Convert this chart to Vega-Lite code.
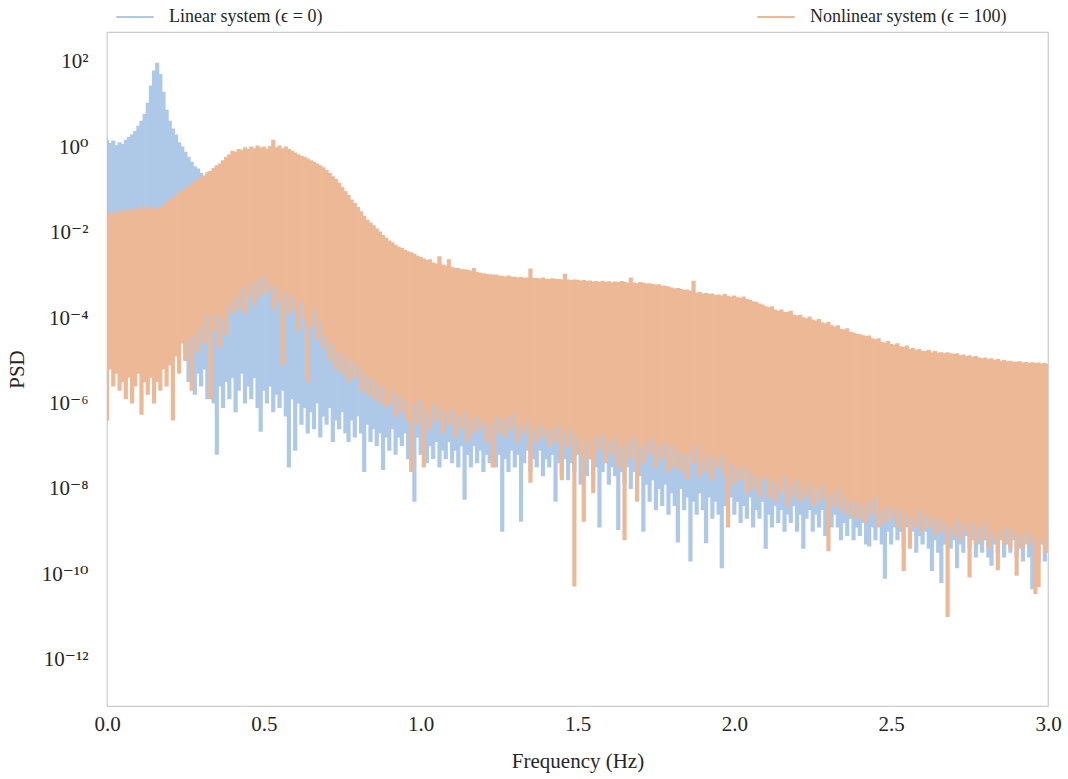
{
"$schema": "https://vega.github.io/schema/vega-lite/v6.json",
"width": 941,
"height": 674,
"autosize": {"type": "none"},
"padding": {"left": 107, "top": 32, "right": 20, "bottom": 73},
"background": "white",
"config": {
  "view": {"stroke": "#cccccc", "strokeWidth": 1.25},
  "font": "Liberation Serif, DejaVu Serif",
  "axis": {"grid": false, "domain": false, "ticks": false, "tickSize": 0, "labelColor": "#262626", "titleColor": "#262626", "labelFontSize": 21, "titleFontSize": 21, "titleFontWeight": "normal", "labelFont": "Liberation Serif, DejaVu Serif", "titleFont": "Liberation Serif, DejaVu Serif", "labelFlush": false, "labelOverlap": false},
  "legend": {"labelFont": "Liberation Serif, DejaVu Serif"}
},
"data": {"values": [
{"s":"L","f":0,"hi":1.5,"lo":1e-4},
{"s":"L","f":0.01,"hi":1.26,"lo":1e-4},
{"s":"L","f":0.02,"hi":1.45,"lo":1e-4},
{"s":"L","f":0.03,"hi":1.12,"lo":1e-4},
{"s":"L","f":0.04,"hi":1.32,"lo":1e-4},
{"s":"L","f":0.05,"hi":1.2,"lo":1e-4},
{"s":"L","f":0.06,"hi":1.5,"lo":1e-4},
{"s":"L","f":0.07,"hi":1.74,"lo":1e-4},
{"s":"L","f":0.08,"hi":2.0,"lo":1e-4},
{"s":"L","f":0.09,"hi":2.4,"lo":1e-4},
{"s":"L","f":0.1,"hi":3.2,"lo":1e-4},
{"s":"L","f":0.11,"hi":4.2,"lo":1e-4},
{"s":"L","f":0.12,"hi":6.0,"lo":1e-4},
{"s":"L","f":0.13,"hi":11,"lo":1e-4},
{"s":"L","f":0.14,"hi":28,"lo":1e-4},
{"s":"L","f":0.15,"hi":63,"lo":1e-4},
{"s":"L","f":0.16,"hi":95,"lo":1e-4},
{"s":"L","f":0.17,"hi":52,"lo":1e-4},
{"s":"L","f":0.18,"hi":20,"lo":1e-4},
{"s":"L","f":0.19,"hi":7.6,"lo":1e-4},
{"s":"L","f":0.2,"hi":4.2,"lo":1e-4},
{"s":"L","f":0.21,"hi":2.75,"lo":1e-4},
{"s":"L","f":0.22,"hi":2.0,"lo":1e-4},
{"s":"L","f":0.23,"hi":1.32,"lo":1e-4},
{"s":"L","f":0.24,"hi":1.05,"lo":1e-4},
{"s":"L","f":0.25,"hi":0.79,"lo":1e-5},
{"s":"L","f":0.26,"hi":0.6,"lo":3.2e-6},
{"s":"L","f":0.27,"hi":0.46,"lo":6.3e-6},
{"s":"L","f":0.28,"hi":0.36,"lo":1.6e-6},
{"s":"L","f":0.29,"hi":0.32,"lo":5e-6},
{"s":"L","f":0.3,"hi":0.25,"lo":2.5e-6},
{"s":"L","f":0.31,"hi":0.19,"lo":6.3e-6},
{"s":"L","f":0.32,"hi":0.126,"lo":1.26e-6},
{"s":"L","f":0.33,"hi":3e-3,"lo":3.2e-6},
{"s":"L","f":0.34,"hi":3e-3,"lo":1e-6},
{"s":"L","f":0.35,"hi":3e-3,"lo":6.3e-8},
{"s":"L","f":0.36,"hi":3e-3,"lo":2.5e-6},
{"s":"L","f":0.37,"hi":3e-3,"lo":7.9e-7},
{"s":"L","f":0.38,"hi":3e-3,"lo":3.2e-6},
{"s":"L","f":0.39,"hi":3e-3,"lo":1.26e-6},
{"s":"L","f":0.4,"hi":3e-3,"lo":4e-6},
{"s":"L","f":0.41,"hi":3e-3,"lo":6.3e-7},
{"s":"L","f":0.42,"hi":3e-3,"lo":2e-6},
{"s":"L","f":0.43,"hi":3e-3,"lo":5e-6},
{"s":"L","f":0.44,"hi":3e-3,"lo":1e-6},
{"s":"L","f":0.45,"hi":3e-3,"lo":2.5e-6},
{"s":"L","f":0.46,"hi":3e-3,"lo":1.26e-6},
{"s":"L","f":0.47,"hi":3e-3,"lo":4e-6},
{"s":"L","f":0.48,"hi":3e-3,"lo":7.9e-7},
{"s":"L","f":0.49,"hi":3e-3,"lo":2.2e-7},
{"s":"L","f":0.5,"hi":3e-3,"lo":2e-6},
{"s":"L","f":0.51,"hi":3e-3,"lo":1e-6},
{"s":"L","f":0.52,"hi":3e-3,"lo":2.5e-6},
{"s":"L","f":0.53,"hi":3e-3,"lo":6.3e-7},
{"s":"L","f":0.54,"hi":3e-3,"lo":1.6e-6},
{"s":"L","f":0.55,"hi":3e-3,"lo":7.9e-7},
{"s":"L","f":0.56,"hi":3e-3,"lo":2e-6},
{"s":"L","f":0.57,"hi":3e-3,"lo":5e-7},
{"s":"L","f":0.58,"hi":3e-3,"lo":3.2e-8},
{"s":"L","f":0.59,"hi":3e-3,"lo":1.26e-6},
{"s":"L","f":0.6,"hi":3e-3,"lo":7.9e-8},
{"s":"L","f":0.61,"hi":3e-3,"lo":1e-6},
{"s":"L","f":0.62,"hi":3e-3,"lo":3.2e-7},
{"s":"L","f":0.63,"hi":3e-3,"lo":7.9e-7},
{"s":"L","f":0.64,"hi":3e-3,"lo":2e-7},
{"s":"L","f":0.65,"hi":3e-3,"lo":6.3e-7},
{"s":"L","f":0.66,"hi":3e-3,"lo":2.5e-7},
{"s":"L","f":0.67,"hi":3e-3,"lo":1e-6},
{"s":"L","f":0.68,"hi":3e-3,"lo":1.6e-7},
{"s":"L","f":0.69,"hi":3e-3,"lo":5e-7},
{"s":"L","f":0.7,"hi":1e-4,"lo":3.2e-7},
{"s":"L","f":0.71,"hi":1e-4,"lo":7.9e-7},
{"s":"L","f":0.72,"hi":1e-4,"lo":1.26e-7},
{"s":"L","f":0.73,"hi":1e-4,"lo":4e-7},
{"s":"L","f":0.74,"hi":1e-4,"lo":2.5e-7},
{"s":"L","f":0.75,"hi":1e-4,"lo":6.3e-7},
{"s":"L","f":0.76,"hi":1e-4,"lo":2e-7},
{"s":"L","f":0.77,"hi":1e-4,"lo":1.26e-7},
{"s":"L","f":0.78,"hi":1e-4,"lo":4e-7},
{"s":"L","f":0.79,"hi":1e-4,"lo":1.6e-7},
{"s":"L","f":0.8,"hi":1e-4,"lo":5e-7},
{"s":"L","f":0.81,"hi":1e-4,"lo":2e-7},
{"s":"L","f":0.82,"hi":1e-4,"lo":2.5e-8},
{"s":"L","f":0.83,"hi":1e-4,"lo":3.2e-7},
{"s":"L","f":0.84,"hi":1e-4,"lo":1.26e-7},
{"s":"L","f":0.85,"hi":1e-4,"lo":2.5e-7},
{"s":"L","f":0.86,"hi":1e-4,"lo":1e-7},
{"s":"L","f":0.87,"hi":1e-4,"lo":2e-7},
{"s":"L","f":0.88,"hi":1e-4,"lo":2.8e-8},
{"s":"L","f":0.89,"hi":1e-4,"lo":1.6e-7},
{"s":"L","f":0.9,"hi":1e-4,"lo":7.9e-8},
{"s":"L","f":0.91,"hi":1e-4,"lo":2.5e-7},
{"s":"L","f":0.92,"hi":1e-4,"lo":6.3e-8},
{"s":"L","f":0.93,"hi":1e-4,"lo":1.6e-7},
{"s":"L","f":0.94,"hi":1e-4,"lo":1e-7},
{"s":"L","f":0.95,"hi":1e-4,"lo":2e-7},
{"s":"L","f":0.96,"hi":1e-4,"lo":5e-8},
{"s":"L","f":0.97,"hi":1e-4,"lo":1.26e-7},
{"s":"L","f":0.98,"hi":1e-4,"lo":5e-9},
{"s":"L","f":0.99,"hi":1e-4,"lo":1.6e-7},
{"s":"L","f":1.0,"hi":3e-5,"lo":6.3e-8},
{"s":"L","f":1.01,"hi":3e-5,"lo":1.26e-7},
{"s":"L","f":1.02,"hi":3e-5,"lo":4e-8},
{"s":"L","f":1.03,"hi":3e-5,"lo":1e-7},
{"s":"L","f":1.04,"hi":3e-5,"lo":5e-8},
{"s":"L","f":1.05,"hi":3e-5,"lo":1.26e-7},
{"s":"L","f":1.06,"hi":3e-5,"lo":3.2e-8},
{"s":"L","f":1.07,"hi":3e-5,"lo":7.9e-8},
{"s":"L","f":1.08,"hi":3e-5,"lo":5e-8},
{"s":"L","f":1.09,"hi":3e-5,"lo":1.26e-7},
{"s":"L","f":1.1,"hi":3e-5,"lo":4e-8},
{"s":"L","f":1.11,"hi":3e-5,"lo":7.9e-8},
{"s":"L","f":1.12,"hi":3e-5,"lo":3.2e-8},
{"s":"L","f":1.13,"hi":3e-5,"lo":1e-7},
{"s":"L","f":1.14,"hi":3e-5,"lo":5.6e-9},
{"s":"L","f":1.15,"hi":3e-5,"lo":6.3e-8},
{"s":"L","f":1.16,"hi":3e-5,"lo":3.2e-8},
{"s":"L","f":1.17,"hi":3e-5,"lo":1e-7},
{"s":"L","f":1.18,"hi":3e-5,"lo":4e-8},
{"s":"L","f":1.19,"hi":3e-5,"lo":7.9e-8},
{"s":"L","f":1.2,"hi":3e-5,"lo":2.5e-8},
{"s":"L","f":1.21,"hi":3e-5,"lo":6.3e-8},
{"s":"L","f":1.22,"hi":3e-5,"lo":4e-8},
{"s":"L","f":1.23,"hi":3e-5,"lo":1e-7},
{"s":"L","f":1.24,"hi":3e-5,"lo":3.2e-8},
{"s":"L","f":1.25,"hi":3e-5,"lo":6.3e-8},
{"s":"L","f":1.26,"hi":3e-5,"lo":1e-9},
{"s":"L","f":1.27,"hi":3e-5,"lo":5e-8},
{"s":"L","f":1.28,"hi":3e-5,"lo":2.5e-8},
{"s":"L","f":1.29,"hi":3e-5,"lo":7.9e-8},
{"s":"L","f":1.3,"hi":3e-5,"lo":3.2e-8},
{"s":"L","f":1.31,"hi":3e-5,"lo":6.3e-8},
{"s":"L","f":1.32,"hi":3e-5,"lo":1.7e-9},
{"s":"L","f":1.33,"hi":3e-5,"lo":4e-8},
{"s":"L","f":1.34,"hi":3e-5,"lo":7.9e-8},
{"s":"L","f":1.35,"hi":3e-5,"lo":2.5e-8},
{"s":"L","f":1.36,"hi":3e-5,"lo":5e-8},
{"s":"L","f":1.37,"hi":3e-5,"lo":3.2e-8},
{"s":"L","f":1.38,"hi":3e-5,"lo":7.9e-8},
{"s":"L","f":1.39,"hi":3e-5,"lo":2e-8},
{"s":"L","f":1.4,"hi":3e-5,"lo":5e-8},
{"s":"L","f":1.41,"hi":3e-5,"lo":3.2e-8},
{"s":"L","f":1.42,"hi":3e-5,"lo":6.3e-8},
{"s":"L","f":1.43,"hi":3e-5,"lo":5e-9},
{"s":"L","f":1.44,"hi":3e-5,"lo":4e-8},
{"s":"L","f":1.45,"hi":3e-5,"lo":2e-8},
{"s":"L","f":1.46,"hi":3e-5,"lo":5e-8},
{"s":"L","f":1.47,"hi":3e-5,"lo":1.6e-8},
{"s":"L","f":1.48,"hi":3e-5,"lo":4e-8},
{"s":"L","f":1.49,"hi":3e-5,"lo":2.5e-8},
{"s":"L","f":1.5,"hi":1e-5,"lo":6.3e-8},
{"s":"L","f":1.51,"hi":1e-5,"lo":1.26e-8},
{"s":"L","f":1.52,"hi":1e-5,"lo":3.2e-8},
{"s":"L","f":1.53,"hi":1e-5,"lo":2e-8},
{"s":"L","f":1.54,"hi":1e-5,"lo":5e-8},
{"s":"L","f":1.55,"hi":1e-5,"lo":1.6e-8},
{"s":"L","f":1.56,"hi":1e-5,"lo":3.2e-8},
{"s":"L","f":1.57,"hi":1e-5,"lo":1.26e-9},
{"s":"L","f":1.58,"hi":1e-5,"lo":2.5e-8},
{"s":"L","f":1.59,"hi":1e-5,"lo":4e-8},
{"s":"L","f":1.6,"hi":1e-5,"lo":1.26e-8},
{"s":"L","f":1.61,"hi":1e-5,"lo":3.2e-8},
{"s":"L","f":1.62,"hi":1e-5,"lo":2e-8},
{"s":"L","f":1.63,"hi":1e-5,"lo":1.1e-9},
{"s":"L","f":1.64,"hi":1e-5,"lo":2.5e-8},
{"s":"L","f":1.65,"hi":1e-5,"lo":1.26e-8},
{"s":"L","f":1.66,"hi":1e-5,"lo":3.2e-8},
{"s":"L","f":1.67,"hi":1e-5,"lo":1e-8},
{"s":"L","f":1.68,"hi":1e-5,"lo":2.5e-8},
{"s":"L","f":1.69,"hi":1e-5,"lo":1.6e-8},
{"s":"L","f":1.7,"hi":1e-5,"lo":2e-8},
{"s":"L","f":1.71,"hi":1e-5,"lo":1e-9},
{"s":"L","f":1.72,"hi":1e-5,"lo":1.26e-8},
{"s":"L","f":1.73,"hi":1e-5,"lo":5e-9},
{"s":"L","f":1.74,"hi":1e-5,"lo":1.6e-8},
{"s":"L","f":1.75,"hi":1e-5,"lo":3.2e-9},
{"s":"L","f":1.76,"hi":1e-5,"lo":1e-8},
{"s":"L","f":1.77,"hi":1e-5,"lo":4e-9},
{"s":"L","f":1.78,"hi":1e-5,"lo":1.26e-8},
{"s":"L","f":1.79,"hi":1e-5,"lo":2.5e-9},
{"s":"L","f":1.8,"hi":1e-5,"lo":7.9e-9},
{"s":"L","f":1.81,"hi":1e-5,"lo":4e-9},
{"s":"L","f":1.82,"hi":1e-5,"lo":5.6e-10},
{"s":"L","f":1.83,"hi":1e-5,"lo":1e-8},
{"s":"L","f":1.84,"hi":1e-5,"lo":3.2e-9},
{"s":"L","f":1.85,"hi":1e-5,"lo":6.3e-9},
{"s":"L","f":1.86,"hi":1e-5,"lo":2e-10},
{"s":"L","f":1.87,"hi":1e-5,"lo":5e-9},
{"s":"L","f":1.88,"hi":1e-5,"lo":2.5e-9},
{"s":"L","f":1.89,"hi":1e-5,"lo":7.9e-9},
{"s":"L","f":1.9,"hi":1e-5,"lo":3.2e-9},
{"s":"L","f":1.91,"hi":1e-5,"lo":5.4e-10},
{"s":"L","f":1.92,"hi":1e-5,"lo":6.3e-9},
{"s":"L","f":1.93,"hi":1e-5,"lo":2e-9},
{"s":"L","f":1.94,"hi":1e-5,"lo":5e-9},
{"s":"L","f":1.95,"hi":1e-5,"lo":2.5e-9},
{"s":"L","f":1.96,"hi":1e-5,"lo":1.4e-10},
{"s":"L","f":1.97,"hi":1e-5,"lo":4e-9},
{"s":"L","f":1.98,"hi":1e-5,"lo":2e-9},
{"s":"L","f":1.99,"hi":1e-5,"lo":6.3e-9},
{"s":"L","f":2.0,"hi":3e-6,"lo":2.5e-9},
{"s":"L","f":2.01,"hi":3e-6,"lo":5e-9},
{"s":"L","f":2.02,"hi":3e-6,"lo":1.6e-9},
{"s":"L","f":2.03,"hi":3e-6,"lo":4e-9},
{"s":"L","f":2.04,"hi":3e-6,"lo":2e-9},
{"s":"L","f":2.05,"hi":3e-6,"lo":6.3e-9},
{"s":"L","f":2.06,"hi":3e-6,"lo":1.26e-9},
{"s":"L","f":2.07,"hi":3e-6,"lo":3.2e-9},
{"s":"L","f":2.08,"hi":3e-6,"lo":2e-9},
{"s":"L","f":2.09,"hi":3e-6,"lo":5e-9},
{"s":"L","f":2.1,"hi":3e-6,"lo":4e-10},
{"s":"L","f":2.11,"hi":3e-6,"lo":2.5e-9},
{"s":"L","f":2.12,"hi":3e-6,"lo":1.26e-9},
{"s":"L","f":2.13,"hi":3e-6,"lo":4e-9},
{"s":"L","f":2.14,"hi":3e-6,"lo":1.6e-9},
{"s":"L","f":2.15,"hi":3e-6,"lo":3.2e-9},
{"s":"L","f":2.16,"hi":3e-6,"lo":1e-9},
{"s":"L","f":2.17,"hi":3e-6,"lo":2.5e-9},
{"s":"L","f":2.18,"hi":3e-6,"lo":1.6e-9},
{"s":"L","f":2.19,"hi":3e-6,"lo":4e-9},
{"s":"L","f":2.2,"hi":3e-6,"lo":1e-9},
{"s":"L","f":2.21,"hi":3e-6,"lo":2.5e-9},
{"s":"L","f":2.22,"hi":3e-6,"lo":4e-10},
{"s":"L","f":2.23,"hi":3e-6,"lo":2e-9},
{"s":"L","f":2.24,"hi":3e-6,"lo":3.2e-9},
{"s":"L","f":2.25,"hi":3e-6,"lo":1e-9},
{"s":"L","f":2.26,"hi":3e-6,"lo":2.5e-9},
{"s":"L","f":2.27,"hi":3e-6,"lo":1.26e-9},
{"s":"L","f":2.28,"hi":3e-6,"lo":3.2e-9},
{"s":"L","f":2.29,"hi":3e-6,"lo":7.9e-10},
{"s":"L","f":2.3,"hi":3e-6,"lo":2e-9},
{"s":"L","f":2.31,"hi":3e-6,"lo":1.26e-9},
{"s":"L","f":2.32,"hi":3e-6,"lo":2.5e-9},
{"s":"L","f":2.33,"hi":3e-6,"lo":1.26e-9},
{"s":"L","f":2.34,"hi":3e-6,"lo":6.3e-10},
{"s":"L","f":2.35,"hi":3e-6,"lo":1.6e-9},
{"s":"L","f":2.36,"hi":3e-6,"lo":7.9e-10},
{"s":"L","f":2.37,"hi":3e-6,"lo":2e-9},
{"s":"L","f":2.38,"hi":3e-6,"lo":6.3e-10},
{"s":"L","f":2.39,"hi":3e-6,"lo":1.26e-9},
{"s":"L","f":2.4,"hi":3e-6,"lo":7.9e-10},
{"s":"L","f":2.41,"hi":3e-6,"lo":1.6e-9},
{"s":"L","f":2.42,"hi":3e-6,"lo":5e-10},
{"s":"L","f":2.43,"hi":3e-6,"lo":4.5e-10},
{"s":"L","f":2.44,"hi":3e-6,"lo":1.26e-9},
{"s":"L","f":2.45,"hi":3e-6,"lo":6.3e-10},
{"s":"L","f":2.46,"hi":3e-6,"lo":1.6e-9},
{"s":"L","f":2.47,"hi":3e-6,"lo":5e-10},
{"s":"L","f":2.48,"hi":3e-6,"lo":7.9e-11},
{"s":"L","f":2.49,"hi":3e-6,"lo":1e-9},
{"s":"L","f":2.5,"hi":1e-6,"lo":5e-10},
{"s":"L","f":2.51,"hi":1e-6,"lo":1.26e-9},
{"s":"L","f":2.52,"hi":1e-6,"lo":6.3e-10},
{"s":"L","f":2.53,"hi":1e-6,"lo":1e-9},
{"s":"L","f":2.54,"hi":1e-6,"lo":4e-10},
{"s":"L","f":2.55,"hi":1e-6,"lo":1.26e-9},
{"s":"L","f":2.56,"hi":1e-6,"lo":5e-10},
{"s":"L","f":2.57,"hi":1e-6,"lo":1e-9},
{"s":"L","f":2.58,"hi":1e-6,"lo":3.2e-10},
{"s":"L","f":2.59,"hi":1e-6,"lo":7.9e-10},
{"s":"L","f":2.6,"hi":1e-6,"lo":5e-10},
{"s":"L","f":2.61,"hi":1e-6,"lo":1e-9},
{"s":"L","f":2.62,"hi":1e-6,"lo":4e-10},
{"s":"L","f":2.63,"hi":1e-6,"lo":1.2e-10},
{"s":"L","f":2.64,"hi":1e-6,"lo":6.3e-10},
{"s":"L","f":2.65,"hi":1e-6,"lo":3.2e-10},
{"s":"L","f":2.66,"hi":1e-6,"lo":6.3e-11},
{"s":"L","f":2.67,"hi":1e-6,"lo":5e-10},
{"s":"L","f":2.68,"hi":1e-6,"lo":7.9e-10},
{"s":"L","f":2.69,"hi":1e-6,"lo":4e-10},
{"s":"L","f":2.7,"hi":1e-6,"lo":6.3e-10},
{"s":"L","f":2.71,"hi":1e-6,"lo":1.4e-10},
{"s":"L","f":2.72,"hi":1e-6,"lo":5e-10},
{"s":"L","f":2.73,"hi":1e-6,"lo":3.2e-10},
{"s":"L","f":2.74,"hi":1e-6,"lo":7.9e-10},
{"s":"L","f":2.75,"hi":1e-6,"lo":4e-10},
{"s":"L","f":2.76,"hi":1e-6,"lo":6.3e-10},
{"s":"L","f":2.77,"hi":1e-6,"lo":2.5e-10},
{"s":"L","f":2.78,"hi":1e-6,"lo":5e-10},
{"s":"L","f":2.79,"hi":1e-6,"lo":3.2e-10},
{"s":"L","f":2.8,"hi":1e-6,"lo":6.3e-10},
{"s":"L","f":2.81,"hi":1e-6,"lo":2.5e-10},
{"s":"L","f":2.82,"hi":1e-6,"lo":1.6e-10},
{"s":"L","f":2.83,"hi":1e-6,"lo":5e-10},
{"s":"L","f":2.84,"hi":1e-6,"lo":3.2e-10},
{"s":"L","f":2.85,"hi":1e-6,"lo":6.3e-10},
{"s":"L","f":2.86,"hi":1e-6,"lo":2.5e-10},
{"s":"L","f":2.87,"hi":1e-6,"lo":5e-10},
{"s":"L","f":2.88,"hi":1e-6,"lo":3.2e-10},
{"s":"L","f":2.89,"hi":1e-6,"lo":6.3e-10},
{"s":"L","f":2.9,"hi":1e-6,"lo":2.5e-10},
{"s":"L","f":2.91,"hi":1e-6,"lo":4e-10},
{"s":"L","f":2.92,"hi":1e-6,"lo":2e-10},
{"s":"L","f":2.93,"hi":1e-6,"lo":5e-10},
{"s":"L","f":2.94,"hi":1e-6,"lo":2.5e-10},
{"s":"L","f":2.95,"hi":1e-6,"lo":4.5e-11},
{"s":"L","f":2.96,"hi":1e-6,"lo":4e-10},
{"s":"L","f":2.97,"hi":1e-6,"lo":2e-10},
{"s":"L","f":2.98,"hi":1e-6,"lo":5e-10},
{"s":"L","f":2.99,"hi":1e-6,"lo":2e-10},
{"s":"L","f":3.0,"hi":1e-6,"lo":3.2e-10},
{"s":"N","f":0,"hi":2.5e-2,"lo":4e-7},
{"s":"N","f":0.01,"hi":3.0e-2,"lo":6.3e-6},
{"s":"N","f":0.02,"hi":2.6e-2,"lo":2.5e-6},
{"s":"N","f":0.03,"hi":3.2e-2,"lo":5e-6},
{"s":"N","f":0.04,"hi":2.8e-2,"lo":2e-6},
{"s":"N","f":0.05,"hi":3.5e-2,"lo":3.2e-6},
{"s":"N","f":0.06,"hi":3.0e-2,"lo":1.26e-6},
{"s":"N","f":0.07,"hi":3.6e-2,"lo":4e-6},
{"s":"N","f":0.08,"hi":3.2e-2,"lo":1e-6},
{"s":"N","f":0.09,"hi":3.8e-2,"lo":2.5e-6},
{"s":"N","f":0.1,"hi":3.4e-2,"lo":5e-6},
{"s":"N","f":0.11,"hi":4.0e-2,"lo":5.5e-7},
{"s":"N","f":0.12,"hi":3.5e-2,"lo":3.2e-6},
{"s":"N","f":0.13,"hi":4.2e-2,"lo":1.6e-6},
{"s":"N","f":0.14,"hi":3.6e-2,"lo":4e-6},
{"s":"N","f":0.15,"hi":4.0e-2,"lo":1e-6},
{"s":"N","f":0.16,"hi":3.3e-2,"lo":3.2e-6},
{"s":"N","f":0.17,"hi":3.8e-2,"lo":2e-6},
{"s":"N","f":0.18,"hi":4.5e-2,"lo":6.3e-6},
{"s":"N","f":0.19,"hi":5.0e-2,"lo":2.5e-6},
{"s":"N","f":0.2,"hi":6.0e-2,"lo":7.9e-6},
{"s":"N","f":0.21,"hi":6.3e-2,"lo":4e-7},
{"s":"N","f":0.22,"hi":7.6e-2,"lo":1.26e-5},
{"s":"N","f":0.23,"hi":8.7e-2,"lo":5e-6},
{"s":"N","f":0.24,"hi":9.5e-2,"lo":2.5e-5},
{"s":"N","f":0.25,"hi":0.112,"lo":1e-5},
{"s":"N","f":0.26,"hi":0.12,"lo":3.2e-5},
{"s":"N","f":0.27,"hi":0.138,"lo":2e-6},
{"s":"N","f":0.28,"hi":0.158,"lo":4e-5},
{"s":"N","f":0.29,"hi":0.174,"lo":1.6e-5},
{"s":"N","f":0.3,"hi":0.2,"lo":6.3e-5},
{"s":"N","f":0.31,"hi":0.22,"lo":2.5e-5},
{"s":"N","f":0.32,"hi":0.26,"lo":1.26e-4},
{"s":"N","f":0.33,"hi":0.28,"lo":1.26e-6},
{"s":"N","f":0.34,"hi":0.33,"lo":5e-5},
{"s":"N","f":0.35,"hi":0.38,"lo":1.26e-4},
{"s":"N","f":0.36,"hi":0.42,"lo":2e-5},
{"s":"N","f":0.37,"hi":0.5,"lo":1e-4},
{"s":"N","f":0.38,"hi":0.6,"lo":4e-5},
{"s":"N","f":0.39,"hi":0.69,"lo":2e-4},
{"s":"N","f":0.4,"hi":0.83,"lo":1.26e-4},
{"s":"N","f":0.41,"hi":0.79,"lo":3.2e-4},
{"s":"N","f":0.42,"hi":0.91,"lo":1.6e-4},
{"s":"N","f":0.43,"hi":0.87,"lo":5e-4},
{"s":"N","f":0.44,"hi":1.0,"lo":1.26e-4},
{"s":"N","f":0.45,"hi":0.91,"lo":3.2e-4},
{"s":"N","f":0.46,"hi":1.05,"lo":6.3e-4},
{"s":"N","f":0.47,"hi":0.95,"lo":2e-4},
{"s":"N","f":0.48,"hi":1.1,"lo":7.9e-4},
{"s":"N","f":0.49,"hi":1.0,"lo":3.2e-4},
{"s":"N","f":0.5,"hi":1.05,"lo":1e-3},
{"s":"N","f":0.51,"hi":0.93,"lo":4e-4},
{"s":"N","f":0.52,"hi":1.07,"lo":6.3e-4},
{"s":"N","f":0.53,"hi":1.5,"lo":1.6e-4},
{"s":"N","f":0.54,"hi":1.0,"lo":5e-4},
{"s":"N","f":0.55,"hi":1.1,"lo":2.5e-4},
{"s":"N","f":0.56,"hi":0.95,"lo":7.9e-6},
{"s":"N","f":0.57,"hi":1.05,"lo":4e-4},
{"s":"N","f":0.58,"hi":0.91,"lo":1.26e-4},
{"s":"N","f":0.59,"hi":0.83,"lo":3.2e-4},
{"s":"N","f":0.6,"hi":0.76,"lo":1.6e-4},
{"s":"N","f":0.61,"hi":0.69,"lo":5e-5},
{"s":"N","f":0.62,"hi":0.63,"lo":2.5e-4},
{"s":"N","f":0.63,"hi":0.6,"lo":1e-4},
{"s":"N","f":0.64,"hi":0.55,"lo":3.2e-6},
{"s":"N","f":0.65,"hi":0.5,"lo":6.3e-5},
{"s":"N","f":0.66,"hi":0.46,"lo":1.6e-4},
{"s":"N","f":0.67,"hi":0.42,"lo":3.2e-5},
{"s":"N","f":0.68,"hi":0.38,"lo":7.9e-5},
{"s":"N","f":0.69,"hi":0.34,"lo":2e-5},
{"s":"N","f":0.7,"hi":0.3,"lo":4e-5},
{"s":"N","f":0.71,"hi":0.25,"lo":1e-5},
{"s":"N","f":0.72,"hi":0.21,"lo":2.5e-5},
{"s":"N","f":0.73,"hi":0.18,"lo":6.3e-6},
{"s":"N","f":0.74,"hi":0.148,"lo":1.6e-5},
{"s":"N","f":0.75,"hi":0.12,"lo":5e-6},
{"s":"N","f":0.76,"hi":0.095,"lo":1.26e-5},
{"s":"N","f":0.77,"hi":0.076,"lo":3.2e-6},
{"s":"N","f":0.78,"hi":0.06,"lo":1e-5},
{"s":"N","f":0.79,"hi":0.05,"lo":4e-6},
{"s":"N","f":0.8,"hi":0.04,"lo":7.9e-6},
{"s":"N","f":0.81,"hi":0.032,"lo":2e-6},
{"s":"N","f":0.82,"hi":0.025,"lo":5e-6},
{"s":"N","f":0.83,"hi":0.02,"lo":1.6e-6},
{"s":"N","f":0.84,"hi":0.0174,"lo":4e-6},
{"s":"N","f":0.85,"hi":0.015,"lo":1.26e-6},
{"s":"N","f":0.86,"hi":0.0126,"lo":3.2e-6},
{"s":"N","f":0.87,"hi":0.0107,"lo":1e-6},
{"s":"N","f":0.88,"hi":0.0089,"lo":2.5e-6},
{"s":"N","f":0.89,"hi":0.0076,"lo":7.9e-7},
{"s":"N","f":0.9,"hi":0.0066,"lo":1e-6},
{"s":"N","f":0.91,"hi":0.006,"lo":2e-6},
{"s":"N","f":0.92,"hi":0.0052,"lo":5e-7},
{"s":"N","f":0.93,"hi":0.0047,"lo":1.6e-6},
{"s":"N","f":0.94,"hi":0.0044,"lo":6.3e-7},
{"s":"N","f":0.95,"hi":0.004,"lo":1.26e-6},
{"s":"N","f":0.96,"hi":0.0037,"lo":4e-7},
{"s":"N","f":0.97,"hi":0.0035,"lo":2.5e-8},
{"s":"N","f":0.98,"hi":0.0032,"lo":1e-6},
{"s":"N","f":0.99,"hi":0.0029,"lo":3.2e-7},
{"s":"N","f":1.0,"hi":0.0027,"lo":1.26e-6},
{"s":"N","f":1.01,"hi":0.0025,"lo":3.2e-8},
{"s":"N","f":1.02,"hi":0.0023,"lo":6.3e-7},
{"s":"N","f":1.03,"hi":0.0024,"lo":2.5e-7},
{"s":"N","f":1.04,"hi":0.002,"lo":1e-6},
{"s":"N","f":1.05,"hi":0.0019,"lo":4e-7},
{"s":"N","f":1.06,"hi":0.0028,"lo":7.9e-7},
{"s":"N","f":1.07,"hi":0.0018,"lo":2e-7},
{"s":"N","f":1.08,"hi":0.0017,"lo":6.3e-7},
{"s":"N","f":1.09,"hi":0.0024,"lo":3.2e-7},
{"s":"N","f":1.1,"hi":0.0016,"lo":7.9e-7},
{"s":"N","f":1.11,"hi":0.0015,"lo":1.6e-7},
{"s":"N","f":1.12,"hi":0.0015,"lo":5e-7},
{"s":"N","f":1.13,"hi":0.0014,"lo":2.5e-7},
{"s":"N","f":1.14,"hi":0.0014,"lo":6.3e-7},
{"s":"N","f":1.15,"hi":0.00135,"lo":1.26e-7},
{"s":"N","f":1.16,"hi":0.0013,"lo":4e-7},
{"s":"N","f":1.17,"hi":0.0015,"lo":2e-7},
{"s":"N","f":1.18,"hi":0.0012,"lo":5e-7},
{"s":"N","f":1.19,"hi":0.00115,"lo":2.5e-7},
{"s":"N","f":1.2,"hi":0.00112,"lo":4e-7},
{"s":"N","f":1.21,"hi":0.0011,"lo":1.26e-7},
{"s":"N","f":1.22,"hi":0.00107,"lo":3.2e-7},
{"s":"N","f":1.23,"hi":0.00105,"lo":3.2e-8},
{"s":"N","f":1.24,"hi":0.00105,"lo":5e-7},
{"s":"N","f":1.25,"hi":0.001,"lo":2e-7},
{"s":"N","f":1.26,"hi":0.00098,"lo":4e-7},
{"s":"N","f":1.27,"hi":0.00095,"lo":1.6e-7},
{"s":"N","f":1.28,"hi":0.001,"lo":5e-7},
{"s":"N","f":1.29,"hi":0.00093,"lo":2.5e-7},
{"s":"N","f":1.3,"hi":0.00093,"lo":6.3e-7},
{"s":"N","f":1.31,"hi":0.0009,"lo":1.26e-7},
{"s":"N","f":1.32,"hi":0.00092,"lo":3.2e-7},
{"s":"N","f":1.33,"hi":0.00088,"lo":2e-7},
{"s":"N","f":1.34,"hi":0.0009,"lo":4e-7},
{"s":"N","f":1.35,"hi":0.00145,"lo":1.4e-8},
{"s":"N","f":1.36,"hi":0.00088,"lo":2.5e-7},
{"s":"N","f":1.37,"hi":0.00087,"lo":1.26e-7},
{"s":"N","f":1.38,"hi":0.00085,"lo":3.2e-7},
{"s":"N","f":1.39,"hi":0.0009,"lo":1.6e-7},
{"s":"N","f":1.4,"hi":0.00084,"lo":2.5e-7},
{"s":"N","f":1.41,"hi":0.00083,"lo":1e-7},
{"s":"N","f":1.42,"hi":0.00086,"lo":2.5e-7},
{"s":"N","f":1.43,"hi":0.00082,"lo":1.26e-7},
{"s":"N","f":1.44,"hi":0.00083,"lo":3.2e-7},
{"s":"N","f":1.45,"hi":0.00081,"lo":1.6e-8},
{"s":"N","f":1.46,"hi":0.0011,"lo":2e-7},
{"s":"N","f":1.47,"hi":0.0008,"lo":1e-7},
{"s":"N","f":1.48,"hi":0.00078,"lo":2.5e-7},
{"s":"N","f":1.49,"hi":0.0008,"lo":5.2e-11},
{"s":"N","f":1.5,"hi":0.00079,"lo":1.6e-7},
{"s":"N","f":1.51,"hi":0.00076,"lo":6.3e-8},
{"s":"N","f":1.52,"hi":0.00078,"lo":1.7e-9},
{"s":"N","f":1.53,"hi":0.00074,"lo":1.26e-7},
{"s":"N","f":1.54,"hi":0.00076,"lo":5e-8},
{"s":"N","f":1.55,"hi":0.00072,"lo":7.9e-9},
{"s":"N","f":1.56,"hi":0.00074,"lo":1.6e-7},
{"s":"N","f":1.57,"hi":0.0007,"lo":7.9e-8},
{"s":"N","f":1.58,"hi":0.00075,"lo":2e-7},
{"s":"N","f":1.59,"hi":0.0007,"lo":4e-8},
{"s":"N","f":1.6,"hi":0.00073,"lo":1.26e-7},
{"s":"N","f":1.61,"hi":0.00069,"lo":6.3e-8},
{"s":"N","f":1.62,"hi":0.00072,"lo":1.6e-7},
{"s":"N","f":1.63,"hi":0.0007,"lo":3.2e-8},
{"s":"N","f":1.64,"hi":0.00074,"lo":1e-7},
{"s":"N","f":1.65,"hi":0.00071,"lo":6.3e-10},
{"s":"N","f":1.66,"hi":0.00068,"lo":1.26e-7},
{"s":"N","f":1.67,"hi":0.0009,"lo":5e-8},
{"s":"N","f":1.68,"hi":0.00068,"lo":1.6e-7},
{"s":"N","f":1.69,"hi":0.00066,"lo":5e-9},
{"s":"N","f":1.7,"hi":0.0007,"lo":1e-7},
{"s":"N","f":1.71,"hi":0.00067,"lo":4e-8},
{"s":"N","f":1.72,"hi":0.00065,"lo":1.26e-7},
{"s":"N","f":1.73,"hi":0.00066,"lo":6.3e-8},
{"s":"N","f":1.74,"hi":0.00063,"lo":1.6e-7},
{"s":"N","f":1.75,"hi":0.00061,"lo":3.2e-8},
{"s":"N","f":1.76,"hi":0.00062,"lo":1e-7},
{"s":"N","f":1.77,"hi":0.00058,"lo":5e-8},
{"s":"N","f":1.78,"hi":0.00057,"lo":1.26e-7},
{"s":"N","f":1.79,"hi":0.00055,"lo":2.5e-8},
{"s":"N","f":1.8,"hi":0.00052,"lo":1e-7},
{"s":"N","f":1.81,"hi":0.0005,"lo":3.2e-8},
{"s":"N","f":1.82,"hi":0.00051,"lo":7.9e-8},
{"s":"N","f":1.83,"hi":0.00048,"lo":2.5e-8},
{"s":"N","f":1.84,"hi":0.00046,"lo":6.3e-8},
{"s":"N","f":1.85,"hi":0.00047,"lo":1.6e-8},
{"s":"N","f":1.86,"hi":0.00044,"lo":7.9e-8},
{"s":"N","f":1.87,"hi":0.00075,"lo":4e-8},
{"s":"N","f":1.88,"hi":0.0004,"lo":1e-7},
{"s":"N","f":1.89,"hi":0.00041,"lo":2e-8},
{"s":"N","f":1.9,"hi":0.00038,"lo":5e-8},
{"s":"N","f":1.91,"hi":0.00039,"lo":2.5e-8},
{"s":"N","f":1.92,"hi":0.00037,"lo":6.3e-8},
{"s":"N","f":1.93,"hi":0.00038,"lo":1.6e-8},
{"s":"N","f":1.94,"hi":0.00035,"lo":5e-8},
{"s":"N","f":1.95,"hi":0.00036,"lo":3.2e-8},
{"s":"N","f":1.96,"hi":0.00034,"lo":6.3e-8},
{"s":"N","f":1.97,"hi":0.00037,"lo":2e-8},
{"s":"N","f":1.98,"hi":0.00033,"lo":1.26e-9},
{"s":"N","f":1.99,"hi":0.00032,"lo":4e-8},
{"s":"N","f":2.0,"hi":0.00034,"lo":1.26e-8},
{"s":"N","f":2.01,"hi":0.00031,"lo":3.2e-8},
{"s":"N","f":2.02,"hi":0.0003,"lo":1.6e-8},
{"s":"N","f":2.03,"hi":0.00032,"lo":3.2e-8},
{"s":"N","f":2.04,"hi":0.00028,"lo":7.9e-9},
{"s":"N","f":2.05,"hi":0.00027,"lo":2.5e-8},
{"s":"N","f":2.06,"hi":0.00025,"lo":1e-8},
{"s":"N","f":2.07,"hi":0.00024,"lo":2e-8},
{"s":"N","f":2.08,"hi":0.00022,"lo":6.3e-9},
{"s":"N","f":2.09,"hi":0.00021,"lo":1.6e-8},
{"s":"N","f":2.1,"hi":1.9e-4,"lo":2e-8},
{"s":"N","f":2.11,"hi":1.8e-4,"lo":6.3e-9},
{"s":"N","f":2.12,"hi":1.9e-4,"lo":1.6e-8},
{"s":"N","f":2.13,"hi":1.6e-4,"lo":5e-9},
{"s":"N","f":2.14,"hi":1.5e-4,"lo":1.26e-8},
{"s":"N","f":2.15,"hi":1.6e-4,"lo":7.9e-9},
{"s":"N","f":2.16,"hi":1.4e-4,"lo":2e-8},
{"s":"N","f":2.17,"hi":1.4e-4,"lo":4e-9},
{"s":"N","f":2.18,"hi":1.5e-4,"lo":1.26e-8},
{"s":"N","f":2.19,"hi":1.2e-4,"lo":6.3e-9},
{"s":"N","f":2.2,"hi":1.15e-4,"lo":1.6e-8},
{"s":"N","f":2.21,"hi":1.2e-4,"lo":5e-9},
{"s":"N","f":2.22,"hi":1.05e-4,"lo":1e-8},
{"s":"N","f":2.23,"hi":1.0e-4,"lo":6.3e-9},
{"s":"N","f":2.24,"hi":1.1e-4,"lo":1.26e-8},
{"s":"N","f":2.25,"hi":9.3e-5,"lo":4e-9},
{"s":"N","f":2.26,"hi":8.8e-5,"lo":1e-8},
{"s":"N","f":2.27,"hi":9.5e-5,"lo":5e-9},
{"s":"N","f":2.28,"hi":8.0e-5,"lo":1.26e-8},
{"s":"N","f":2.29,"hi":7.6e-5,"lo":6.3e-9},
{"s":"N","f":2.3,"hi":8.2e-5,"lo":3.5e-10},
{"s":"N","f":2.31,"hi":6.8e-5,"lo":7.9e-9},
{"s":"N","f":2.32,"hi":6.3e-5,"lo":4e-9},
{"s":"N","f":2.33,"hi":6.8e-5,"lo":1e-8},
{"s":"N","f":2.34,"hi":5.6e-5,"lo":3.2e-9},
{"s":"N","f":2.35,"hi":5.4e-5,"lo":6.3e-9},
{"s":"N","f":2.36,"hi":5.8e-5,"lo":2.5e-9},
{"s":"N","f":2.37,"hi":4.8e-5,"lo":5e-9},
{"s":"N","f":2.38,"hi":4.6e-5,"lo":2e-9},
{"s":"N","f":2.39,"hi":4.3e-5,"lo":5e-9},
{"s":"N","f":2.4,"hi":4.2e-5,"lo":2e-9},
{"s":"N","f":2.41,"hi":4.0e-5,"lo":4e-9},
{"s":"N","f":2.42,"hi":3.8e-5,"lo":1.6e-9},
{"s":"N","f":2.43,"hi":3.9e-5,"lo":5e-9},
{"s":"N","f":2.44,"hi":3.4e-5,"lo":2.5e-9},
{"s":"N","f":2.45,"hi":3.2e-5,"lo":6.3e-9},
{"s":"N","f":2.46,"hi":3.4e-5,"lo":1.26e-9},
{"s":"N","f":2.47,"hi":2.8e-5,"lo":3.2e-9},
{"s":"N","f":2.48,"hi":2.7e-5,"lo":1.6e-9},
{"s":"N","f":2.49,"hi":2.9e-5,"lo":4e-9},
{"s":"N","f":2.5,"hi":2.5e-5,"lo":2e-9},
{"s":"N","f":2.51,"hi":2.4e-5,"lo":3.2e-9},
{"s":"N","f":2.52,"hi":2.6e-5,"lo":1.26e-9},
{"s":"N","f":2.53,"hi":2.2e-5,"lo":3.2e-9},
{"s":"N","f":2.54,"hi":2.1e-5,"lo":1.2e-10},
{"s":"N","f":2.55,"hi":2.3e-5,"lo":2.5e-9},
{"s":"N","f":2.56,"hi":1.9e-5,"lo":4e-10},
{"s":"N","f":2.57,"hi":2.0e-5,"lo":2e-9},
{"s":"N","f":2.58,"hi":1.8e-5,"lo":1.26e-9},
{"s":"N","f":2.59,"hi":1.9e-5,"lo":3.2e-9},
{"s":"N","f":2.6,"hi":1.7e-5,"lo":1e-9},
{"s":"N","f":2.61,"hi":1.7e-5,"lo":2.5e-9},
{"s":"N","f":2.62,"hi":1.8e-5,"lo":1.26e-9},
{"s":"N","f":2.63,"hi":1.6e-5,"lo":2e-9},
{"s":"N","f":2.64,"hi":1.7e-5,"lo":7.9e-10},
{"s":"N","f":2.65,"hi":1.55e-5,"lo":2e-9},
{"s":"N","f":2.66,"hi":1.6e-5,"lo":1e-9},
{"s":"N","f":2.67,"hi":1.5e-5,"lo":1.6e-9},
{"s":"N","f":2.68,"hi":1.6e-5,"lo":1e-11},
{"s":"N","f":2.69,"hi":1.5e-5,"lo":1.26e-9},
{"s":"N","f":2.7,"hi":1.45e-5,"lo":7.9e-10},
{"s":"N","f":2.71,"hi":1.5e-5,"lo":2e-9},
{"s":"N","f":2.72,"hi":1.35e-5,"lo":6.3e-10},
{"s":"N","f":2.73,"hi":1.4e-5,"lo":1.6e-9},
{"s":"N","f":2.74,"hi":1.3e-5,"lo":1e-9},
{"s":"N","f":2.75,"hi":1.35e-5,"lo":8.5e-11},
{"s":"N","f":2.76,"hi":1.25e-5,"lo":1.6e-9},
{"s":"N","f":2.77,"hi":1.3e-5,"lo":5e-10},
{"s":"N","f":2.78,"hi":1.2e-5,"lo":1.26e-9},
{"s":"N","f":2.79,"hi":1.15e-5,"lo":6.3e-10},
{"s":"N","f":2.8,"hi":1.2e-5,"lo":1.6e-9},
{"s":"N","f":2.81,"hi":1.1e-5,"lo":4e-10},
{"s":"N","f":2.82,"hi":1.15e-5,"lo":1e-9},
{"s":"N","f":2.83,"hi":1.05e-5,"lo":6.3e-10},
{"s":"N","f":2.84,"hi":1.1e-5,"lo":1.26e-10},
{"s":"N","f":2.85,"hi":1.0e-5,"lo":1e-9},
{"s":"N","f":2.86,"hi":1.05e-5,"lo":5e-10},
{"s":"N","f":2.87,"hi":9.8e-6,"lo":1.26e-9},
{"s":"N","f":2.88,"hi":1.0e-5,"lo":4e-10},
{"s":"N","f":2.89,"hi":9.5e-6,"lo":1e-9},
{"s":"N","f":2.9,"hi":9.5e-6,"lo":9.3e-11},
{"s":"N","f":2.91,"hi":9.8e-6,"lo":7.9e-10},
{"s":"N","f":2.92,"hi":9.2e-6,"lo":4e-10},
{"s":"N","f":2.93,"hi":9.4e-6,"lo":1e-9},
{"s":"N","f":2.94,"hi":9.0e-6,"lo":5e-10},
{"s":"N","f":2.95,"hi":9.3e-6,"lo":7.9e-10},
{"s":"N","f":2.96,"hi":8.9e-6,"lo":3.5e-11},
{"s":"N","f":2.97,"hi":9.1e-6,"lo":5e-11},
{"s":"N","f":2.98,"hi":8.7e-6,"lo":6.3e-10},
{"s":"N","f":2.99,"hi":8.9e-6,"lo":3.2e-10},
{"s":"N","f":3.0,"hi":8.5e-6,"lo":5e-10}
]},
"mark": {"type": "rule", "strokeWidth": 4.2, "strokeCap": "butt", "clip": true, "opacity": 1, "strokeOpacity": 1},
"encoding": {
  "x": {"field": "f", "type": "quantitative",
        "scale": {"domain": [0, 3], "nice": false, "zero": false},
        "axis": {"values": [0, 0.5, 1, 1.5, 2, 2.5, 3], "format": ".1f", "title": "Frequency (Hz)", "labelPadding": 7, "titlePadding": 16, "labelAngle": 0}},
  "y": {"field": "hi", "type": "quantitative",
        "scale": {"type": "log", "domain": [8.3e-14, 501], "nice": false},
        "axis": {"values": [1e-12, 1e-10, 1e-8, 1e-6, 1e-4, 1e-2, 1, 100], "title": "PSD", "labelPadding": 19, "titlePadding": 14,
                 "labelExpr": "'10' + (datum.value >= 10 ? '²' : datum.value >= 0.5 ? '⁰' : datum.value >= 5e-3 ? '⁻²' : datum.value >= 5e-5 ? '⁻⁴' : datum.value >= 5e-7 ? '⁻⁶' : datum.value >= 5e-9 ? '⁻⁸' : datum.value >= 5e-11 ? '⁻¹⁰' : '⁻¹²')"}},
  "y2": {"field": "lo"},
  "color": {"field": "s", "type": "nominal",
            "scale": {"domain": ["L", "N"], "range": ["#aec8e8", "#ecb896"]},
            "legend": {"orient": "none", "legendX": 8, "legendY": -35, "direction": "horizontal", "columns": 2, "columnPadding": 430, "title": null,
                       "symbolType": "stroke", "symbolSize": 1400, "symbolStrokeWidth": 2, "labelFontSize": 18, "labelOffset": 14, "labelColor": "#262626", "labelLimit": 400, "padding": 0,
                       "labelExpr": "datum.value == 'L' ? 'Linear system (ϵ = 0)' : 'Nonlinear system (ϵ = 100)'"}}
}
}
